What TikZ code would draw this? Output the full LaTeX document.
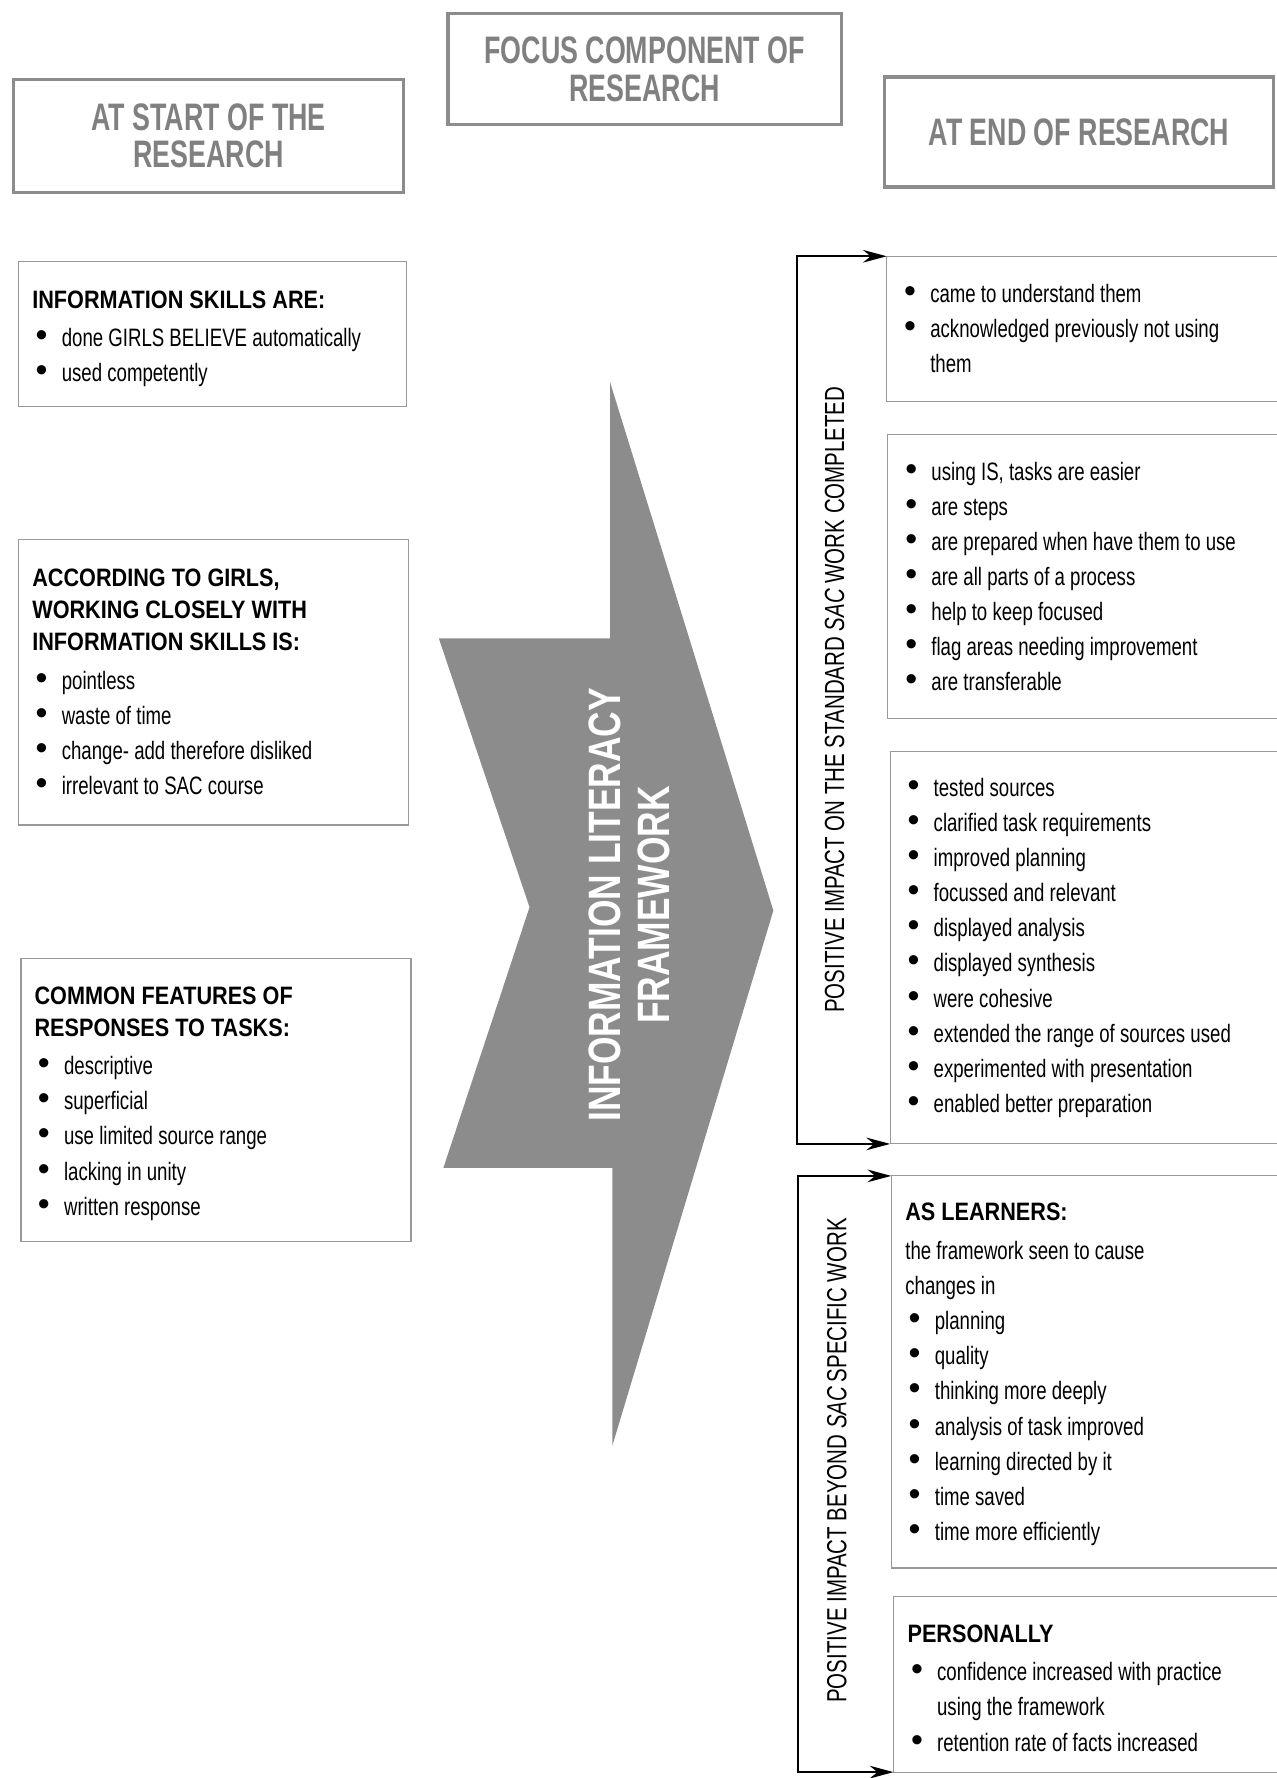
\documentclass[tikz,border=0pt]{standalone}
\usepackage{fontspec}
\setmainfont{Liberation Sans}[FakeStretch=0.74]
\newfontfamily\tfont{Liberation Sans}[FakeStretch=0.86]
\newfontfamily\hfont{Liberation Sans}[FakeStretch=0.70]
\newfontfamily\afont{Liberation Sans}[FakeStretch=0.78]
\newfontfamily\bfnt{Liberation Sans}
\usetikzlibrary{arrows.meta}
\setlength{\parindent}{0pt}
\newcommand\itm[1]{\hangindent=13pt\hangafter=1\noindent\makebox[13pt][l]{\hspace{1.5pt}{\bfnt\fontsize{15}{12}\selectfont\textbullet}}#1\par}
\newcommand\ttl[2][11pt]{{\tfont\bfseries\fontsize{11.1}{14}\selectfont\rule{0pt}{#1}#2\par}\vspace{1.5pt}}
\begin{document}
\begin{tikzpicture}[x=0.5pt,y=-0.5pt,
 hdr/.style={draw=black!45, line width=1.5pt, text=black!50, font=\hfont\bfseries\fontsize{16.9}{16.5}\selectfont, align=center, inner sep=0pt},
 lbox/.style={draw=black!40, line width=0.5pt, anchor=north west, inner xsep=6pt, inner ysep=0pt, align=left, font=\fontsize{11.1}{15.5}\selectfont, execute at begin node={\spaceskip=0pt\xspaceskip=0pt}},
 rbox/.style={anchor=north west, inner xsep=6pt, inner ysep=0pt, align=left, font=\fontsize{11.1}{15.5}\selectfont, execute at begin node={\spaceskip=0pt\xspaceskip=0pt}},
 rline/.style={draw=black!40, line width=0.5pt},
 rot/.style={rotate=90, font=\fontsize{12.2}{14}\selectfont, inner sep=0pt},
 brk/.style={line width=0.8pt, {Stealth[length=10.5pt,width=5.6pt]}-{Stealth[length=10.5pt,width=5.6pt]}},
 bigarrow/.style={fill=black!45},
 arrtext/.style={rotate=90, text=white, font=\afont\bfseries\fontsize{20}{22}\selectfont, align=center, inner sep=0pt}
]
\useasboundingbox (0,0) rectangle (1126,1568);

% headers
\node[hdr, minimum width=172pt, minimum height=50pt] (hL) at (184,120) {AT START OF THE\\RESEARCH};
\node[hdr, minimum width=173.5pt, minimum height=49pt] (hM) at (568.5,61) {FOCUS COMPONENT OF\\RESEARCH};
\node[hdr, minimum width=171.5pt, minimum height=48.5pt] (hR) at (951.5,116.5) {AT END OF RESEARCH};

% big arrow
\fill[bigarrow] (538,337) -- (682,803) -- (540,1275) -- (540,1030) -- (391,1030) -- (467,800) -- (387,563) -- (538,563) -- cycle;
\node[arrtext] (alf) at (555,798) {INFORMATION LITERACY\\FRAMEWORK};

% left boxes
\node[lbox, text width=159pt, minimum height=64pt] (L1) at (16,230)
 {\ttl[12pt]{INFORMATION SKILLS ARE:}\itm{done GIRLS BELIEVE automatically}\itm{used competently}};
\node[lbox, text width=160pt, minimum height=126pt] (L2) at (16,475)
 {\ttl[0pt]{ACCORDING TO GIRLS,\\WORKING CLOSELY WITH\\INFORMATION SKILLS IS:}\itm{pointless}\itm{waste of time}\itm{change- add therefore disliked}\itm{irrelevant to SAC course}};
\node[lbox, text width=160pt, minimum height=124.5pt] (L3) at (18,845)
 {\ttl{COMMON FEATURES OF\\RESPONSES TO TASKS:}\itm{descriptive}\itm{superficial}\itm{use limited source range}\itm{lacking in unity}\itm{written response}};

% right boxes
\node[rbox, text width=160pt, minimum height=63.5pt] (R1) at (782,226)
 {\itm{came to understand them}\itm{acknowledged previously not using\newline them}};
\node[rbox, text width=159.5pt, minimum height=125pt] (R2) at (783,383)
 {\itm{using IS, tasks are easier}\itm{are steps}\itm{are prepared when have them to use}\itm{are all parts of a process}\itm{help to keep focused}\itm{flag areas needing improvement}\itm{are transferable}};
\node[rbox, text width=158.5pt, minimum height=172.5pt] (R3) at (785,663)
 {\itm{tested sources}\itm{clarified task requirements}\itm{improved planning}\itm{focussed and relevant}\itm{displayed analysis}\itm{displayed synthesis}\itm{were cohesive}\itm{extended the range of sources used}\itm{experimented with presentation}\itm{enabled better preparation}};
\node[rbox, text width=158pt, minimum height=172.5pt] (R4) at (786,1037)
 {\ttl[10pt]{AS LEARNERS:}the framework seen to cause\newline changes in\par\itm{planning}\itm{quality}\itm{thinking more deeply}\itm{analysis of task improved}\itm{learning directed by it}\itm{time saved}\itm{time more efficiently}};
\node[rbox, text width=157pt, minimum height=77pt] (R5) at (788,1408)
 {\ttl{PERSONALLY}\itm{confidence increased with practice\newline using the framework}\itm{retention rate of facts increased}};
\foreach \n in {R1,R2,R3,R4,R5}
  \draw[rline] (\n.north east) -- (\n.north west) -- (\n.south west) -- (\n.south east);

% side labels
\node[rot] (lab1) at (736,617) {POSITIVE IMPACT ON THE STANDARD \textit{SAC} WORK COMPLETED};
\node[rot] (lab2) at (738,1288) {POSITIVE IMPACT BEYOND \textit{SAC}\,SPECIFIC WORK};

% brackets
\coordinate (b1) at (703,617);
\draw[brk] (R1.north west) -| (b1) |- (R3.south west);
\coordinate (b2) at (704,1288);
\draw[brk] (R4.north west) -| (b2) |- (R5.south west);
\end{tikzpicture}
\end{document}
